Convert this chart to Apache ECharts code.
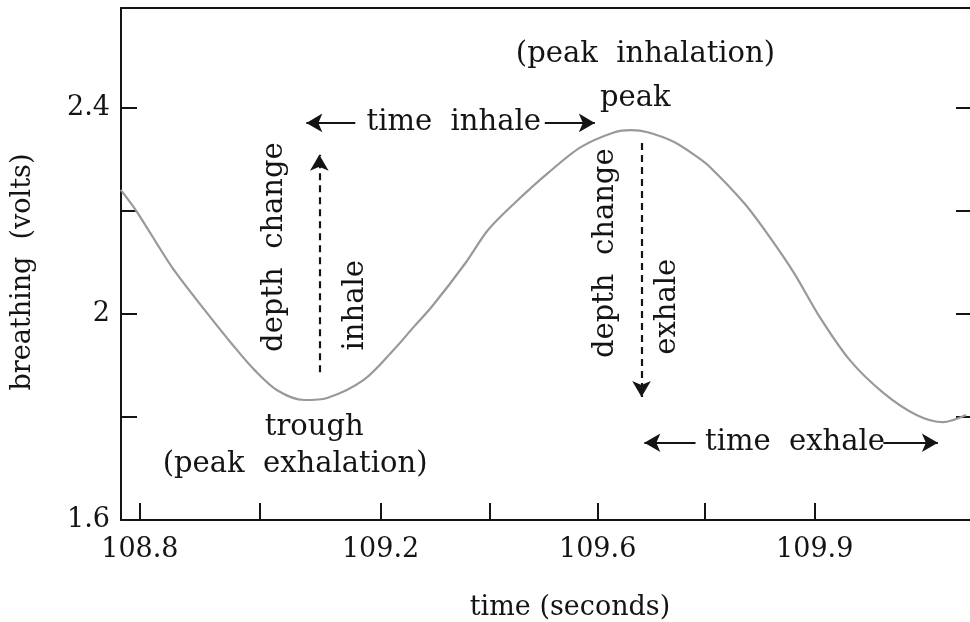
<!DOCTYPE html>
<html>
<head>
<meta charset="utf-8">
<script src="https://cdn.jsdelivr.net/npm/echarts@6/dist/echarts.min.js"></script>
<style>
  html, body { margin: 0; padding: 0; background: #fff; }
  #chart { width: 970px; height: 622px; }
</style>
</head>
<body>
<div id="chart"></div>
<script>
// breathing trace
const timeSec = [108.766, 108.795, 108.857, 108.915, 108.968, 109.004, 109.044, 109.092, 109.133,
  109.198, 109.251, 109.287, 109.319, 109.379, 109.419, 109.467, 109.526, 109.584, 109.644,
  109.673, 109.703, 109.750, 109.791, 109.814, 109.874, 109.915, 109.963, 110.009, 110.062,
  110.122, 110.181, 110.228, 110.269]
const breathVolts = [2.241, 2.198, 2.091, 2.008, 1.936, 1.891, 1.852, 1.833, 1.837,
  1.872, 1.930, 1.975, 2.014, 2.099, 2.163, 2.216, 2.274, 2.324, 2.353,
  2.357, 2.353, 2.334, 2.305, 2.285, 2.216, 2.157, 2.080, 1.994, 1.911,
  1.847, 1.804, 1.790, 1.804]

// x ticks as drawn (spacing in the figure is a bit uneven)
const xTickValues = [108.8, 109.014, 109.228, 109.423, 109.614, 109.805, 110.0]
const xTickLabels = ['108.8', '', '109.2', '', '109.6', '', '109.9']
const yTickValues = [1.6, 1.8, 2.0, 2.2, 2.4]
const yTickLabels = ['1.6', '', '2', '', '2.4']

// annotations, in data coordinates
const notes = [
  { text: '(peak  inhalation)', t: 109.699, v: 2.503, rot: 0 },
  { text: 'peak', t: 109.681, v: 2.419, rot: 0 },
  { text: 'time  inhale', t: 109.358, v: 2.371, rot: 0 },
  { text: 'depth  change', t: 109.039, v: 2.130, rot: 90 },
  { text: 'inhale', t: 109.184, v: 2.017, rot: 90 },
  { text: 'trough', t: 109.110, v: 1.779, rot: 0 },
  { text: '(peak  exhalation)', t: 109.076, v: 1.707, rot: 0 },
  { text: 'depth  change', t: 109.627, v: 2.118, rot: 90 },
  { text: 'exhale', t: 109.738, v: 2.014, rot: 90 },
  { text: 'time  exhale', t: 109.965, v: 1.750, rot: 0 },
]
const arrows = [
  { from: [109.183, 2.371], to: [109.096, 2.371], dashed: false },
  { from: [109.520, 2.371], to: [109.609, 2.371], dashed: false },
  { from: [109.119, 1.887], to: [109.119, 2.309], dashed: true },
  { from: [109.692, 2.332], to: [109.692, 1.839], dashed: true },
  { from: [109.788, 1.750], to: [109.697, 1.750], dashed: false },
  { from: [110.122, 1.750], to: [110.219, 1.750], dashed: false },
]

const ink = '#141414'
const serif = '"DejaVu Serif", "Liberation Serif", serif'
const fmt = (vals, labels) => (v) => {
  const i = vals.findIndex((x) => Math.abs(x - v) < 1e-6)
  return i < 0 ? '' : labels[i]
}
const X_MIN = 108.7664
const X_MAX = 110.2761
const Y_MIN = 1.6
const Y_MAX = 2.5942

const chart = echarts.init(document.getElementById('chart'), null, { renderer: 'canvas' })

chart.setOption({
  animation: false,
  backgroundColor: '#fff',
  // right edge of the frame runs just past the picture, so no border there
  grid: { left: 121, top: 8, width: 853, height: 512 },
  xAxis: [{
    type: 'value',
    min: X_MIN,
    max: X_MAX,
    axisLine: { show: true, lineStyle: { color: ink, width: 2 } },
    axisTick: { show: true, inside: true, length: 17, customValues: xTickValues, lineStyle: { color: ink, width: 2 } },
    axisLabel: {
      customValues: xTickValues,
      formatter: fmt(xTickValues, xTickLabels),
      margin: 16,
      color: ink,
      fontFamily: serif,
      fontSize: 27,
    },
    splitLine: { show: false },
  }, {
    // top frame line only
    type: 'value',
    position: 'top',
    min: X_MIN,
    max: X_MAX,
    axisLine: { show: true, lineStyle: { color: ink, width: 2 } },
    axisTick: { show: false },
    axisLabel: { show: false },
    splitLine: { show: false },
  }],
  yAxis: [{
    type: 'value',
    min: Y_MIN,
    max: Y_MAX,
    axisLine: { show: true, lineStyle: { color: ink, width: 2 } },
    axisTick: { show: true, inside: true, length: 16, customValues: yTickValues, lineStyle: { color: ink, width: 2 } },
    axisLabel: {
      customValues: yTickValues,
      formatter: fmt(yTickValues, yTickLabels),
      margin: 11,
      color: ink,
      fontFamily: serif,
      fontSize: 27,
    },
    splitLine: { show: false },
  }, {
    type: 'value',
    position: 'right',
    min: Y_MIN,
    max: Y_MAX,
    axisLine: { show: false },
    axisTick: { show: true, inside: true, length: 14, customValues: yTickValues, lineStyle: { color: ink, width: 2 } },
    axisLabel: { show: false },
    splitLine: { show: false },
  }],
  series: [{
    type: 'line',
    data: timeSec.map((t, i) => [t, breathVolts[i]]),
    smooth: 0.3,
    showSymbol: false,
    lineStyle: { color: '#999999', width: 2.2 },
    markLine: {
      silent: true,
      symbolSize: [14, 16],
      label: { show: false },
      data: arrows.map((a) => [
        { coord: a.from, symbol: 'none', lineStyle: { color: ink, width: 2.2, type: a.dashed ? [7, 5] : 'solid' } },
        { coord: a.to, symbol: 'arrow', itemStyle: { color: ink } },
      ]),
      lineStyle: { color: ink, width: 2 },
      itemStyle: { color: ink },
    },
  }],
})

const graphics = notes.map((n) => {
  const [px, py] = chart.convertToPixel({ xAxisIndex: 0, yAxisIndex: 0 }, [n.t, n.v])
  return {
    type: 'text',
    x: px,
    y: py,
    rotation: n.rot * Math.PI / 180,
    style: { text: n.text, fill: ink, font: '29px ' + serif, align: 'center', verticalAlign: 'middle' },
  }
})
graphics.push({
  type: 'text', x: 570, y: 608,
  style: { text: 'time (seconds)', fill: ink, font: '27px ' + serif, align: 'center', verticalAlign: 'middle' },
})
graphics.push({
  type: 'text', x: 23, y: 272, rotation: Math.PI / 2,
  style: { text: 'breathing  (volts)', fill: ink, font: '27px ' + serif, align: 'center', verticalAlign: 'middle' },
})
chart.setOption({ graphic: graphics })
</script>
</body>
</html>
